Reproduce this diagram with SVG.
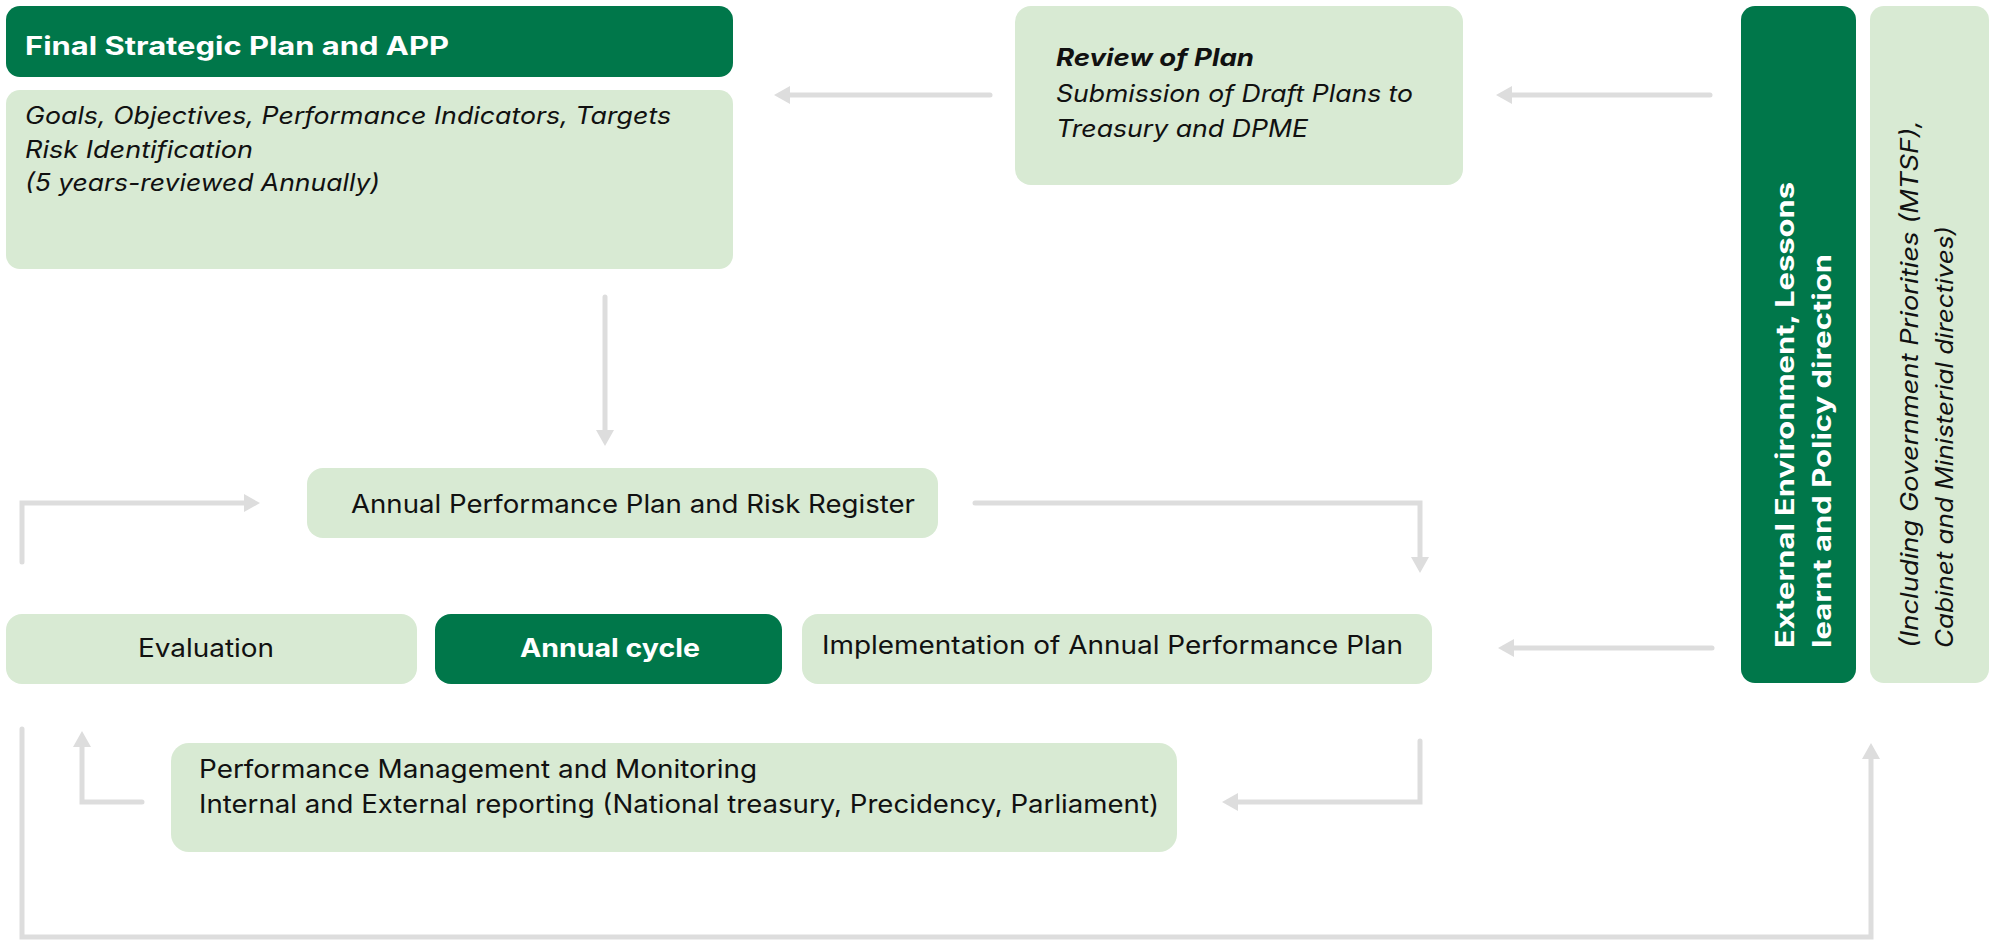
<svg xmlns="http://www.w3.org/2000/svg" width="1991" height="940" viewBox="0 0 1991 940">
<style>
.dark{fill:#00774A}
.light{fill:#D8EAD3}
.t{font-family:Inter,"Open Sans","Liberation Sans",sans-serif;fill:#111111;font-size:25px}
.it{font-style:italic;font-size:24px}
.w{fill:#FFFFFF;font-weight:bold}
.conn{fill:none;stroke:#DDDDDD;stroke-width:5;stroke-linecap:round;stroke-linejoin:miter;marker-end:url(#ah)}
</style>
<defs>
<marker id="ah" markerUnits="userSpaceOnUse" markerWidth="16" markerHeight="18" refX="0" refY="9" orient="auto">
<path d="M0,0 L16,9 L0,18 z" fill="#DDDDDD"/>
</marker>
</defs>
<rect width="1991" height="940" fill="#FFFFFF"/>
<g id="connectors">
<path class="conn" d="M990 95 H790"/>
<path class="conn" d="M1710 95 H1512"/>
<path class="conn" d="M605 297 V430"/>
<path class="conn" d="M975 503 H1420 V557"/>
<path class="conn" d="M22 562 V503 H244"/>
<path class="conn" d="M1712 648 H1514"/>
<path class="conn" d="M1420 741 V802 H1238"/>
<path class="conn" d="M142 802 H82 V747"/>
<path class="conn" d="M22 729 V937 H1871 V759"/>
</g>
<g id="node-final-plan">
<rect class="dark" x="6" y="6" width="727" height="71" rx="14"/>
<text class="t w" x="25" y="55" font-size="30" textLength="424" lengthAdjust="spacingAndGlyphs">Final Strategic Plan and APP</text>
</g>
<g id="node-goals">
<rect class="light" x="6" y="90" width="727" height="179" rx="14"/>
<text class="t it" x="25" y="124" textLength="646" lengthAdjust="spacingAndGlyphs">Goals, Objectives, Performance Indicators, Targets</text>
<text class="t it" x="25" y="158" textLength="228" lengthAdjust="spacingAndGlyphs">Risk Identification</text>
<text class="t it" x="25" y="191" textLength="355" lengthAdjust="spacingAndGlyphs">(5 years-reviewed Annually)</text>
</g>
<g id="node-review">
<rect class="light" x="1015" y="6" width="448" height="179" rx="16"/>
<text class="t it" x="1056" y="66" font-weight="bold" font-size="22" textLength="198" lengthAdjust="spacingAndGlyphs">Review of Plan</text>
<text class="t it" x="1056" y="102" textLength="357" lengthAdjust="spacingAndGlyphs">Submission of Draft Plans to</text>
<text class="t it" x="1056" y="137" textLength="252" lengthAdjust="spacingAndGlyphs">Treasury and DPME</text>
</g>
<g id="node-external">
<rect class="dark" x="1741" y="6" width="115" height="677" rx="14"/>
<text class="t w" font-size="30" transform="translate(1794 648) rotate(-90)" textLength="466" lengthAdjust="spacingAndGlyphs">External Environment, Lessons</text>
<text class="t w" font-size="30" transform="translate(1831 648) rotate(-90)" textLength="394" lengthAdjust="spacingAndGlyphs">learnt and Policy direction</text>
</g>
<g id="node-priorities">
<rect class="light" x="1870" y="6" width="119" height="677" rx="14"/>
<text class="t it" font-size="29" transform="translate(1918 648) rotate(-90)" textLength="528" lengthAdjust="spacingAndGlyphs">(Including Government Priorities (MTSF),</text>
<text class="t it" font-size="29" transform="translate(1953 648) rotate(-90)" textLength="422" lengthAdjust="spacingAndGlyphs">Cabinet and Ministerial directives)</text>
</g>
<g id="node-app">
<rect class="light" x="307" y="468" width="631" height="70" rx="16"/>
<text class="t" x="351" y="513" textLength="564" lengthAdjust="spacingAndGlyphs">Annual Performance Plan and Risk Register</text>
</g>
<g id="node-evaluation">
<rect class="light" x="6" y="614" width="411" height="70" rx="16"/>
<text class="t" x="138" y="657" textLength="136" lengthAdjust="spacingAndGlyphs">Evaluation</text>
</g>
<g id="node-annual-cycle">
<rect class="dark" x="435" y="614" width="347" height="70" rx="16"/>
<text class="t w" x="520" y="657" font-size="27" textLength="180" lengthAdjust="spacingAndGlyphs">Annual cycle</text>
</g>
<g id="node-implementation">
<rect class="light" x="802" y="614" width="630" height="70" rx="16"/>
<text class="t" x="822" y="654" textLength="581" lengthAdjust="spacingAndGlyphs">Implementation of Annual Performance Plan</text>
</g>
<g id="node-performance">
<rect class="light" x="171" y="743" width="1006" height="109" rx="18"/>
<text class="t" x="199" y="778" textLength="558" lengthAdjust="spacingAndGlyphs">Performance Management and Monitoring</text>
<text class="t" x="199" y="813" textLength="960" lengthAdjust="spacingAndGlyphs">Internal and External reporting (National treasury, Precidency, Parliament)</text>
</g>
</svg>
